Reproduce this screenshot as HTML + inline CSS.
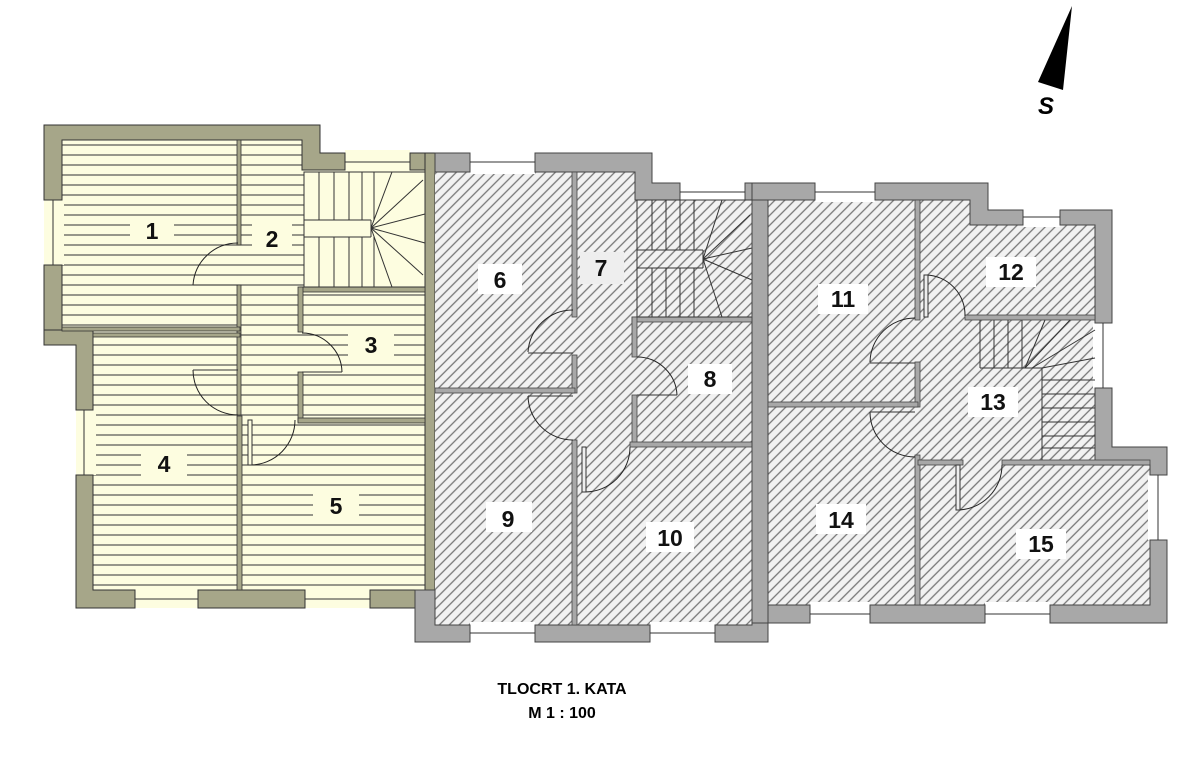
<!DOCTYPE html>
<html><head><meta charset="utf-8"><style>
html,body{margin:0;padding:0;background:#fff;width:1200px;height:757px;overflow:hidden}
svg{display:block}
.lb{font-family:"Liberation Sans",sans-serif;font-weight:bold;font-size:23px;fill:#111;text-anchor:middle}
.ow{fill:#a6a689;stroke:#333;stroke-width:1}
.gw{fill:#a8a8a8;stroke:#444;stroke-width:1}
.iw{fill:#a6a689;stroke:#333;stroke-width:.8}
.gi{fill:#a8a8a8;stroke:#444;stroke-width:.8}
.dr{fill:none;stroke:#222;stroke-width:1}
.st{stroke:#333;stroke-width:1}
</style></head><body>
<svg width="1200" height="757" viewBox="0 0 1200 757" xmlns="http://www.w3.org/2000/svg">
<defs>
<pattern id="ly" width="10" height="10" patternUnits="userSpaceOnUse" y="0">
<rect width="10" height="10" fill="#fdfde0"/><line x1="0" y1="5" x2="10" y2="5" stroke="#444" stroke-width="1.1"/>
</pattern>
<pattern id="hg" width="7" height="7" patternUnits="userSpaceOnUse" patternTransform="rotate(-45)">
<rect width="7" height="7" fill="#f2f2f2"/><line x1="0" y1="3.5" x2="7" y2="3.5" stroke="#777" stroke-width="1.3"/>
</pattern>
</defs>

<polygon points="62,140 320,140 320,170 425,170 425,590 93,590 93,345 62,345" fill="url(#ly)"/>
<rect x="44" y="200" width="20" height="65" fill="#fdfde0"/>
<rect x="76" y="410" width="20" height="65" fill="#fdfde0"/>
<rect x="135" y="588" width="63" height="20" fill="#fdfde0"/>
<rect x="305" y="588" width="65" height="20" fill="#fdfde0"/>
<rect x="345" y="150" width="65" height="22" fill="#fdfde0"/>
<polygon class="ow" points="44,125 320,125 320,153 345,153 345,170 320,170 302,170 302,140 62,140 62,200 44,200"/>
<rect class="ow" x="410" y="153" width="25" height="17"/>
<rect class="ow" x="425" y="153" width="10" height="470"/>
<rect class="ow" x="44" y="265" width="18" height="80"/>
<polygon class="ow" points="44,330 93,330 93,410 76,410 76,345 44,345"/>
<polygon class="ow" points="76,475 93,475 93,590 135,590 135,608 76,608"/>
<rect class="ow" x="198" y="590" width="107" height="18"/>
<rect class="ow" x="370" y="590" width="65" height="18"/>
<line class="st" x1="53" y1="200" x2="53" y2="265"/>
<line class="st" x1="84" y1="410" x2="84" y2="475"/>
<line class="st" x1="135" y1="599" x2="198" y2="599"/>
<line class="st" x1="305" y1="599" x2="370" y2="599"/>
<line class="st" x1="345" y1="162" x2="410" y2="162"/>
<rect class="iw" x="237" y="140" width="4" height="105"/>
<rect class="iw" x="237" y="285" width="4" height="130"/>
<rect class="iw" x="237" y="416" width="5" height="174"/>
<rect class="iw" x="62" y="327" width="178" height="4"/>
<rect class="iw" x="93" y="333" width="147" height="4"/>
<rect class="iw" x="300" y="287" width="125" height="5"/>
<rect class="iw" x="298" y="287" width="5" height="45"/>
<rect class="iw" x="298" y="372" width="5" height="50"/>
<rect class="iw" x="298" y="418" width="127" height="5"/>
<g fill="#fdfde0" stroke="#333" stroke-width="1">
<rect x="304" y="172" width="121" height="115"/>
</g>
<g stroke="#333" stroke-width="1">
<line x1="319" y1="172" x2="319" y2="220"/><line x1="334" y1="172" x2="334" y2="220"/><line x1="349" y1="172" x2="349" y2="220"/><line x1="362" y1="172" x2="362" y2="220"/><line x1="374" y1="172" x2="374" y2="220"/>
<line x1="319" y1="237" x2="319" y2="287"/><line x1="334" y1="237" x2="334" y2="287"/><line x1="349" y1="237" x2="349" y2="287"/><line x1="362" y1="237" x2="362" y2="287"/><line x1="374" y1="237" x2="374" y2="287"/>
<line x1="304" y1="220" x2="371" y2="220"/><line x1="304" y1="237" x2="371" y2="237"/><line x1="371" y1="220" x2="371" y2="237"/>
<line x1="371" y1="228" x2="392" y2="172"/><line x1="371" y1="228" x2="423" y2="180"/><line x1="371" y1="228" x2="425" y2="214"/><line x1="371" y1="228" x2="425" y2="243"/><line x1="371" y1="228" x2="423" y2="275"/><line x1="371" y1="228" x2="392" y2="287"/>
</g>
<path class="dr" d="M193,285 A45,45 0 0 1 238,243"/><line class="st" x1="193" y1="285" x2="238" y2="285"/>
<path class="dr" d="M193,370 A45,45 0 0 0 238,415"/><line class="st" x1="193" y1="370" x2="238" y2="370"/>
<path class="dr" d="M302,333 A40,40 0 0 1 342,372"/><line class="st" x1="302" y1="372" x2="342" y2="372"/>
<path class="dr" d="M251,465 A45,45 0 0 0 295,420"/><rect x="248" y="420" width="4" height="45" fill="#fdfde0" stroke="#333"/>

<polygon points="435,172 635,172 635,200 752,200 752,625 435,625" fill="url(#hg)"/>
<rect x="470" y="150" width="65" height="24" fill="#fff"/>
<rect x="680" y="180" width="65" height="22" fill="#fff"/>
<rect x="470" y="622" width="65" height="20" fill="#fff"/>
<rect x="650" y="622" width="65" height="20" fill="#fff"/>
<rect class="gw" x="435" y="153" width="35" height="19"/>
<polygon class="gw" points="535,153 652,153 652,183 680,183 680,200 635,200 635,172 535,172"/>
<rect class="gw" x="745" y="183" width="23" height="17"/>
<polygon class="gw" points="415,590 435,590 435,625 470,625 470,642 415,642"/>
<rect class="gw" x="535" y="625" width="115" height="17"/>
<polygon class="gw" points="715,625 752,625 752,600 768,600 768,642 715,642"/>
<g class="st"><line x1="470" y1="162" x2="535" y2="162"/><line x1="680" y1="192" x2="745" y2="192"/><line x1="470" y1="633" x2="535" y2="633"/><line x1="650" y1="633" x2="715" y2="633"/></g>
<rect class="gi" x="572" y="172" width="5" height="145"/>
<rect class="gi" x="572" y="355" width="5" height="38"/>
<rect class="gi" x="572" y="440" width="5" height="185"/>
<rect class="gi" x="435" y="388" width="140" height="5"/>
<rect class="gi" x="632" y="317" width="120" height="5"/>
<rect class="gi" x="632" y="317" width="5" height="40"/>
<rect class="gi" x="632" y="395" width="5" height="52"/>
<rect class="gi" x="630" y="442" width="122" height="5"/>
<g fill="url(#hg)" stroke="#333"><rect x="637" y="200" width="115" height="117"/></g>
<g class="st">
<line x1="652" y1="200" x2="652" y2="250"/><line x1="666" y1="200" x2="666" y2="250"/><line x1="680" y1="200" x2="680" y2="250"/><line x1="694" y1="200" x2="694" y2="250"/>
<line x1="652" y1="268" x2="652" y2="317"/><line x1="666" y1="268" x2="666" y2="317"/><line x1="680" y1="268" x2="680" y2="317"/><line x1="694" y1="268" x2="694" y2="317"/>
<line x1="637" y1="250" x2="703" y2="250"/><line x1="637" y1="268" x2="703" y2="268"/><line x1="703" y1="250" x2="703" y2="268"/>
<line x1="703" y1="259" x2="722" y2="200"/><line x1="703" y1="259" x2="750" y2="215"/><line x1="703" y1="259" x2="752" y2="248"/><line x1="703" y1="259" x2="752" y2="280"/><line x1="703" y1="259" x2="722" y2="317"/>
</g>
<path class="dr" d="M528,352 A45,45 0 0 1 573,310"/><line class="st" x1="528" y1="353" x2="573" y2="353"/>
<path class="dr" d="M528,396 A45,45 0 0 0 573,440"/><line class="st" x1="528" y1="396" x2="573" y2="396"/>
<path class="dr" d="M637,357 A40,40 0 0 1 677,395"/><line class="st" x1="637" y1="395" x2="677" y2="395"/>
<path class="dr" d="M585,492 A45,45 0 0 0 630,447"/><rect x="582" y="447" width="4" height="45" fill="#eee" stroke="#333"/>

<polygon points="768,200 970,200 970,225 1095,225 1095,465 1150,465 1150,605 768,605" fill="url(#hg)"/>
<rect x="815" y="180" width="60" height="22" fill="#fff"/>
<rect x="1023" y="207" width="37" height="20" fill="#fff"/>
<rect x="1093" y="323" width="22" height="65" fill="#fff"/>
<rect x="1148" y="475" width="22" height="65" fill="#fff"/>
<rect x="810" y="602" width="60" height="22" fill="#fff"/>
<rect x="985" y="602" width="65" height="22" fill="#fff"/>
<rect class="gw" x="752" y="183" width="63" height="17"/>
<rect class="gw" x="752" y="200" width="16" height="423"/>
<polygon class="gw" points="875,183 988,183 988,210 1023,210 1023,225 970,225 970,200 875,200"/>
<polygon class="gw" points="1060,210 1112,210 1112,323 1095,323 1095,225 1060,225"/>
<polygon class="gw" points="1095,388 1112,388 1112,447 1167,447 1167,475 1150,475 1150,465 1095,465"/>
<polygon class="gw" points="1150,540 1167,540 1167,623 1050,623 1050,605 1150,605"/>
<polygon class="gw" points="768,605 810,605 810,623 768,623"/>
<rect class="gw" x="870" y="605" width="115" height="18"/>
<g class="st"><line x1="815" y1="192" x2="875" y2="192"/><line x1="1023" y1="217" x2="1060" y2="217"/><line x1="1103" y1="323" x2="1103" y2="388"/><line x1="1158" y1="475" x2="1158" y2="540"/><line x1="810" y1="614" x2="870" y2="614"/><line x1="985" y1="614" x2="1050" y2="614"/></g>
<rect class="gi" x="915" y="200" width="5" height="120"/>
<rect class="gi" x="915" y="362" width="5" height="45"/>
<rect class="gi" x="915" y="455" width="5" height="150"/>
<rect class="gi" x="768" y="402" width="150" height="5"/>
<rect class="gi" x="965" y="315" width="130" height="5"/>
<rect class="gi" x="918" y="460" width="45" height="5"/>
<rect class="gi" x="1002" y="460" width="148" height="5"/>
<g class="st">
<line x1="980" y1="320" x2="980" y2="368"/><line x1="994" y1="320" x2="994" y2="368"/><line x1="1008" y1="320" x2="1008" y2="368"/><line x1="1022" y1="320" x2="1022" y2="368"/>
<line x1="980" y1="368" x2="1042" y2="368"/><line x1="1042" y1="368" x2="1042" y2="460"/>
<line x1="1042" y1="380" x2="1095" y2="380"/><line x1="1042" y1="394" x2="1095" y2="394"/><line x1="1042" y1="408" x2="1095" y2="408"/><line x1="1042" y1="422" x2="1095" y2="422"/><line x1="1042" y1="436" x2="1095" y2="436"/><line x1="1042" y1="448" x2="1095" y2="448"/>
<line x1="1042" y1="368" x2="1095" y2="358"/><line x1="1032" y1="368" x2="1095" y2="330"/><line x1="1025" y1="368" x2="1070" y2="320"/><line x1="1025" y1="368" x2="1045" y2="320"/>
</g>
<path class="dr" d="M870,362 A45,45 0 0 1 915,318"/><line class="st" x1="870" y1="363" x2="915" y2="363"/>
<path class="dr" d="M870,412 A45,45 0 0 0 915,457"/><line class="st" x1="870" y1="412" x2="915" y2="412"/>
<path class="dr" d="M926,275 A40,40 0 0 1 965,316"/><rect x="924" y="275" width="4" height="42" fill="#eee" stroke="#333"/>
<path class="dr" d="M957,510 A45,45 0 0 0 1002,465"/><rect x="956" y="465" width="4" height="45" fill="#eee" stroke="#333"/>

<g>
<rect x="130" y="216" width="44" height="28" fill="#fdfde0"/><text class="lb" x="152" y="239">1</text>
<rect x="252" y="224" width="40" height="28" fill="#fdfde0"/><text class="lb" x="272" y="247">2</text>
<rect x="348" y="330" width="46" height="28" fill="#fdfde0"/><text class="lb" x="371" y="353">3</text>
<rect x="141" y="448" width="46" height="28" fill="#fdfde0"/><text class="lb" x="164" y="472">4</text>
<rect x="313" y="491" width="46" height="28" fill="#fdfde0"/><text class="lb" x="336" y="514">5</text>
<rect x="478" y="264" width="44" height="30" fill="#fff"/><text class="lb" x="500" y="288">6</text>
<rect x="580" y="252" width="44" height="32" fill="#eee"/><text class="lb" x="601" y="276" fill="#333">7</text>
<rect x="688" y="364" width="44" height="30" fill="#fff"/><text class="lb" x="710" y="387">8</text>
<rect x="486" y="502" width="46" height="30" fill="#fff"/><text class="lb" x="508" y="527">9</text>
<rect x="646" y="522" width="48" height="30" fill="#fff"/><text class="lb" x="670" y="546">10</text>
<rect x="818" y="284" width="50" height="30" fill="#fff"/><text class="lb" x="843" y="307">11</text>
<rect x="986" y="257" width="50" height="30" fill="#fff"/><text class="lb" x="1011" y="280">12</text>
<rect x="968" y="387" width="50" height="30" fill="#fff"/><text class="lb" x="993" y="410">13</text>
<rect x="816" y="504" width="50" height="30" fill="#fff"/><text class="lb" x="841" y="528">14</text>
<rect x="1016" y="529" width="50" height="30" fill="#fff"/><text class="lb" x="1041" y="552">15</text>
</g>

<polygon points="1072,6 1038,82 1063,90" fill="#000"/>
<text x="1046" y="114" font-family="Liberation Sans,sans-serif" font-weight="bold" font-style="italic" font-size="24" text-anchor="middle">S</text>

<text x="562" y="694" font-family="Liberation Sans,sans-serif" font-weight="bold" font-size="16" text-anchor="middle">TLOCRT 1. KATA</text>
<text x="562" y="718" font-family="Liberation Sans,sans-serif" font-weight="bold" font-size="16" text-anchor="middle">M 1 : 100</text>
</svg>
</body></html>
